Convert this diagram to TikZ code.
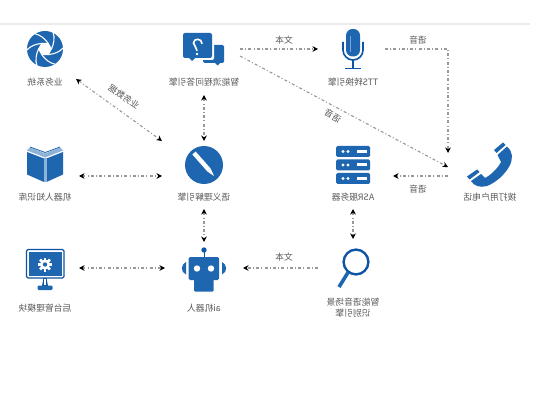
\documentclass[tikz,border=0pt]{standalone}
\usepackage{graphicx}
\usepackage{fontspec}
\newfontfamily\cjk{Noto Sans CJK SC}
\usetikzlibrary{arrows.meta,calc}
\definecolor{iconblue}{HTML}{1F66B0}
\definecolor{deepblue}{HTML}{0F55A5}
\definecolor{labelgray}{HTML}{5A5A5A}
\definecolor{flowgray}{HTML}{999999}
\tikzset{
  hub/.style={draw=none,inner sep=0pt,outer sep=0pt,minimum width=#1},
  lab/.style={text=labelgray,font=\cjk\fontsize{8.8}{10}\selectfont,inner sep=0pt,align=center},
  flow/.style={draw=flowgray,line width=1.1pt,dash pattern=on 3pt off 2.2pt on 1pt off 2.2pt,
     tips=proper},
  both/.style={flow,{Stealth[length=5.5pt,width=5.5pt,black]}-{Stealth[length=5.5pt,width=5.5pt,black]}},
  one/.style={flow,-{Stealth[length=5.5pt,width=5.5pt,black]}},
}
\newcommand{\mir}[1]{\reflectbox{#1}}
\begin{document}
\begin{tikzpicture}[x=1pt,y=-1pt]
\useasboundingbox (0,0) rectangle (545,411);
\fill[white] (0,0) rectangle (545,411);
\draw[draw=black!8,line width=2pt] (0,24) -- (530,24);

% connector hubs (invisible)
\node[hub=62,minimum height=60] (biz) at (45,49) {};
\node[hub=72,minimum height=92] (qa) at (204,49) {};
\node[hub=67,minimum height=46] (tts) at (351.5,49) {};
\node[hub=68,minimum height=46] (book) at (45,176) {};
\node[hub=84,minimum height=68] (pen) at (204,175) {};
\node[hub=80,minimum height=66] (asr) at (353,176) {};
\node[hub=84,minimum height=46] (phone) at (490,176) {};
\node[hub=68,minimum height=46] (mon) at (45,268) {};
\node[hub=78,minimum height=52] (bot) at (204,268) {};
\node[hub=70,minimum height=58] (mag) at (353,268) {};

% connectors
\draw[both] (biz.south east) -- (pen.north west);
\draw[both] (qa.south) -- (pen.north);
\draw[both] (book.east) -- (pen.west |- book.east);
\draw[both] (pen.south) -- (bot.north);
\draw[both] (mon.east) -- (bot.west);
\draw[one] (mag.west) -- (bot.east);
\draw[both] (asr.south) -- (mag.north);
\draw[one] (qa.east) -- (tts.west);
\draw[one] (tts.east) -| (phone.north west);
\draw[one] (qa.-11) -- (phone.168);
\draw[one] (phone.west) -- (asr.east);

% labels
\node[lab] (lbiz) at (45,82) {\mir{业务系统}};
\node[lab] (lqa) at (204,82) {\mir{智能流程问答引擎}};
\node[lab] (ltts) at (353,82) {\mir{TTS转换引擎}};
\node[lab] (lbook) at (45,197) {\mir{机器人知识库}};
\node[lab] (lpen) at (204,197) {\mir{语义理解引擎}};
\node[lab] (lasr) at (353,197) {\mir{ASR服务器}};
\node[lab] (lphone) at (490,197) {\mir{拨打用户电话}};
\node[lab] (lmon) at (45,308) {\mir{后台管理模块}};
\node[lab] (lbot) at (204,308) {\mir{ai机器人}};
\node[lab] (lmag1) at (353,302) {\mir{智能语音场景}};
\node[lab] (lmag2) at (353,313.5) {\mir{识别引擎}};
\node[lab] (t1) at (284,40) {\mir{文本}};
\node[lab] (t2) at (418,40) {\mir{语音}};
\node[lab] (t3) at (418,189) {\mir{语音}};
\node[lab] (t4) at (284,257) {\mir{文本}};
\node[lab,rotate=-34] (t5) at (124,97) {\mir{业务数据}};
\node[lab,rotate=-28] (t6) at (333,116) {\mir{语音}};

% aperture icon
\begin{scope}[shift={(45,49)}]
  \fill[iconblue] (0,0) circle (18);
  \foreach \a in {0,60,...,300}{
    \draw[white,line width=1.1pt,rotate=\a] (6.5,0) .. controls (9,-6) and (10,-11) .. (8,-17);
  }
  \fill[white] (0:7) -- (60:7) -- (120:7) -- (180:7) -- (240:7) -- (300:7) -- cycle;
\end{scope}

% question bubbles
\fill[iconblue,rounded corners=1.5pt] (203,45) rectangle (224,63);
\fill[iconblue] (214,62) -- (221,62) -- (217.5,65.5) -- cycle;
\fill[white,rounded corners=2pt] (181,31.5) rectangle (214,60);
\fill[iconblue,rounded corners=2pt] (183,33) rectangle (212,58);
\fill[iconblue] (188,57) -- (196,57) -- (192,61) -- cycle;
\draw[white,line width=1.6pt,line cap=round] (202,43.5) .. controls (202,38) and (193.5,38) .. (193.5,43) .. controls (193.5,46) and (197,47) .. (197,50.5);
\fill[white] (197,54) circle (1.3);

% microphone
\fill[iconblue,rounded corners=6.5pt] (346,29) rectangle (360,56.5);
\draw[iconblue!60!white,line width=0.7pt] (350,36) -- (350,52);
\draw[deepblue,line width=1.6pt] (343,42) -- (343,50) arc[start angle=180,end angle=0,radius=10] -- (363,42);
\draw[deepblue,line width=1.6pt] (353,60) -- (353,68);
\draw[deepblue,line width=1.6pt] (345,68.5) -- (361,68.5);

% book
\fill[iconblue] (27,152) -- (44,158.5) -- (44,182) -- (27,174.5) -- cycle;
\fill[iconblue] (63,152) -- (46.5,158.5) -- (46.5,182) -- (63,174.5) -- cycle;
\fill[iconblue!50!white] (27,150.5) -- (45.2,157.5) -- (63,150.5) -- (60,147.5) -- (45.2,153.5) -- (30,147.5) -- cycle;
\draw[iconblue,line width=0.8pt] (30,147) -- (45.2,152.5) -- (60,147);
\fill[iconblue!50!white] (44,158) rectangle (46.5,182);

% pen icon
\fill[iconblue] (204,165) circle (19);
\draw[white,line width=4.4pt] (194,153) -- (209,170);
\fill[white] (210.65,168.55) -- (207.35,171.45) -- (214,176) -- cycle;

% server
\foreach \y in {146,159.5,173}{
  \fill[iconblue,rounded corners=1.5pt] (336,\y) rectangle (370,\y+11);
  \fill[white] (343,\y+5.5) circle (1.7) (348,\y+5.5) circle (1.7);
  \fill[white] (357,\y+4) rectangle (367,\y+7);
}

% phone
\fill[iconblue] (494,150) -- (503,142.5) -- (505.5,145) -- (496.5,153) -- cycle;
\fill[iconblue] (467,176.5) -- (477,169.5) -- (479.5,172) -- (469.5,179.5) -- cycle;
\fill[iconblue] (497.5,155) -- (507,146.5)
  .. controls (513,152) and (513,158) .. (510,165)
  .. controls (505,175) and (495,183) .. (487,186)
  .. controls (480,188) and (474,186) .. (471,181)
  -- (481,174) -- (485,178)
  .. controls (491,175) and (498,168) .. (501,162) -- cycle;

% monitor
\draw[deepblue,line width=1.3pt,rounded corners=1.5pt] (26.5,249.5) rectangle (64,278);
\fill[iconblue] (29,252) rectangle (61.5,275.5);
\begin{scope}[shift={(45,264.5)}]
  \foreach \a in {0,45,...,315}{\fill[white,rotate=\a] (-1.3,-7) rectangle (1.3,0);}
  \fill[white] (0,0) circle (5);
  \fill[iconblue] (0,0) circle (2.2);
\end{scope}
\fill[deepblue] (43.5,278) -- (46.5,278) -- (48,286) -- (42,286) -- cycle;
\fill[white] (44.4,279) rectangle (45.6,285);
\fill[iconblue,rounded corners=1.2pt] (37.5,285.5) rectangle (52.5,290);

% robot
\fill[deepblue] (204,250) circle (2.7);
\draw[deepblue,line width=1pt] (204,252) -- (204,257);
\fill[iconblue,rounded corners=1.5pt] (188.5,257) rectangle (219,280);
\fill[iconblue,rounded corners=1pt] (194,279) rectangle (213.5,291.5);
\fill[white] (197,268.5) circle (3.2) (211,268.5) circle (3.2);
\fill[iconblue] (186,262) .. controls (181,264) and (180,272) .. (186,274.5) -- cycle;
\fill[iconblue] (222,262) .. controls (227,264) and (228,272) .. (222,274.5) -- cycle;

% magnifier
\draw[deepblue,line width=2.4pt] (356,262) circle (12.4);
\draw[iconblue,line width=3.6pt] (348,272.5) -- (339,287);
\end{tikzpicture}
\end{document}
